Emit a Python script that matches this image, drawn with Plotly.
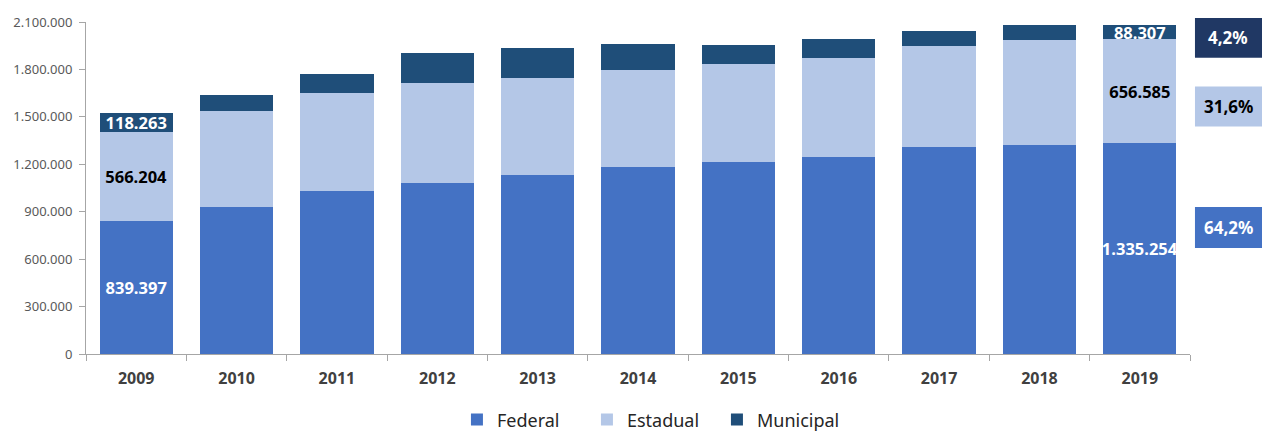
import plotly.graph_objects as go

years = ["2009", "2010", "2011", "2012", "2013", "2014", "2015", "2016", "2017", "2018", "2019"]
federal = [839397, 933000, 1028500, 1083700, 1134300, 1180600, 1214800, 1248400, 1311800, 1322600, 1335254]
estadual = [566204, 602500, 625500, 631800, 608400, 617200, 618500, 623000, 638200, 665400, 656585]
municipal = [118263, 105500, 120000, 185500, 190100, 164800, 123000, 118500, 95000, 90600, 88307]
series_names = ["Federal", "Estadual", "Municipal"]
colors = ["#4472C4", "#B4C7E7", "#1F4E79"]
label_colors = ["white", "black", "white"]
y_ticks = [0, 300000, 600000, 900000, 1200000, 1500000, 1800000, 2100000]

def fmt(v):
    return f"{int(round(v)):,}".replace(",", ".")

FONT = "Noto Sans"
fig = go.Figure()
all_series = [federal, estadual, municipal]
for name, vals, col, lc in zip(series_names, all_series, colors, label_colors):
    texts = [fmt(v) if i in (0, len(vals) - 1) else "" for i, v in enumerate(vals)]
    fig.add_trace(go.Bar(
        x=years, y=vals, name=name, marker=dict(color=col, line=dict(width=0)),
        text=texts, textposition="inside", insidetextanchor="middle",
        constraintext="none", cliponaxis=False, textangle=0,
        textfont=dict(family=FONT, size=16.5, color=lc, weight="bold"),
        hoverinfo="skip",
    ))

# percentage share boxes for the last year
last_total = sum(s[-1] for s in all_series)
box_colors = ["#4472C4", "#B4C7E7", "#203864"]
box_text_colors = ["white", "black", "white"]
box_y = [(0.319, 0.443), (0.685, 0.806), (0.892, 1.012)]
shapes = []
annotations = []
for vals, bc, tc, (y0, y1) in zip(all_series, box_colors, box_text_colors, box_y):
    pct = vals[-1] / last_total * 100
    shapes.append(dict(type="rect", xref="paper", yref="paper", x0=1.0045, x1=1.07,
                       y0=y0, y1=y1, fillcolor=bc, line=dict(width=0), layer="above"))
    annotations.append(dict(xref="paper", yref="paper", x=1.0345, y=(y0 + y1) / 2,
                            text=f"{pct:.1f}%".replace(".", ","), showarrow=False,
                            font=dict(family=FONT, size=17, color=tc, weight="bold"),
                            xanchor="center", yanchor="middle"))

fig.update_layout(
    barmode="stack", bargap=0.27,
    width=1262, height=432,
    margin=dict(l=86, r=72, t=22, b=78),
    plot_bgcolor="white", paper_bgcolor="white",
    font=dict(family=FONT, color="#595959"),
    shapes=shapes, annotations=annotations,
    legend=dict(orientation="h", x=0.336, xanchor="left", xref="paper",
                yref="container", y=0.028, yanchor="middle",
                font=dict(family=FONT, size=18, color="#262626"), traceorder="normal",
                itemwidth=30, entrywidth=85, entrywidthmode="pixels"),
    xaxis=dict(showline=True, linecolor="#A6A6A6", linewidth=1, ticks="outside",
               tickson="boundaries", ticklen=6, tickcolor="#A6A6A6",
               ticklabelstandoff=10,
               tickfont=dict(family=FONT, size=16, color="#404040", weight="bold")),
    yaxis=dict(range=[0, 2100000], tickvals=y_ticks, ticktext=[fmt(v) for v in y_ticks],
               showline=True, linecolor="#A6A6A6", linewidth=1, ticks="outside",
               ticklen=6, tickcolor="#A6A6A6", showgrid=False, zeroline=False,
               ticklabelstandoff=4,
               tickfont=dict(family=FONT, size=13, color="#595959")),
)

fig.write_html("out.html", config={"displayModeBar": False},
               post_script="document.body.style.margin='0';document.body.style.overflow='hidden';")
